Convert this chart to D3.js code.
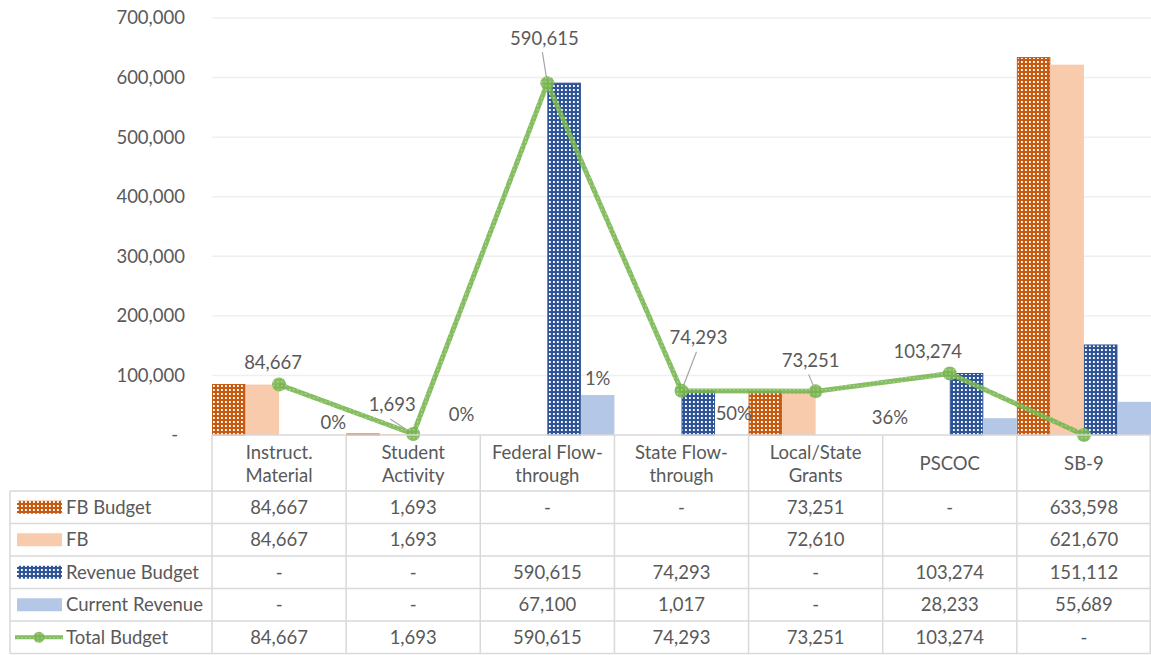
<!DOCTYPE html>
<html>
<head>
<meta charset="utf-8">
<script src="https://cdn.jsdelivr.net/npm/d3@7"></script>
<style>
  body { margin: 0; background: #fff; }
  text { font-family: "Lato", "Open Sans", sans-serif; fill: #595959; }
</style>
</head>
<body>
<div class="chart"></div>
<script>
// data
const categories = [["Instruct.", "Material"], ["Student", "Activity"], ["Federal Flow-", "through"],
    ["State Flow-", "through"], ["Local/State", "Grants"], ["PSCOC"], ["SB-9"]];
const fbBudget = [84667, 1693, 0, 0, 73251, 0, 633598];
const fb = [84667, 1693, null, null, 72610, null, 621670];
const revenueBudget = [0, 0, 590615, 74293, 0, 103274, 151112];
const currentRevenue = [0, 0, 67100, 1017, 0, 28233, 55689];
const totalBudget = [84667, 1693, 590615, 74293, 73251, 103274, 0];
const pctLabels = ["0%", "0%", "1%", "50%", "36%", null, null];
const yTicks = [0, 100000, 200000, 300000, 400000, 500000, 600000, 700000];

const seriesNames = ["FB Budget", "FB", "Revenue Budget", "Current Revenue", "Total Budget"];
const barSeries = [fbBudget, fb, revenueBudget, currentRevenue];

// layout
var width = 1151, height = 655;
var plot = {left: 212, right: 1151, top: 18, bottom: 435};
var table = {left: 10, header: 491, rowH: 32.5};
var fontSize = "18.5px";

// label nudges (how the labels were dragged in the original)
const lineLabelShift = [[-6, -22], [-21, -29], [-3, -45], [17, -53], [-5, -31], [-22, -22], null];
const lineLabelLeader = [false, true, true, true, true, false, false];
const pctLabelShift = [[4, -12], [-2, -20], [0, -17], [2, -21], [24, -17], null, null];

var svg = d3.select(".chart").append("svg")
    .attr("width", width)
    .attr("height", height);

var defs = svg.append("defs");
function dotPattern(id, color, dot, w, h) {
    var p = defs.append("pattern")
        .attr("id", id)
        .attr("patternUnits", "userSpaceOnUse")
        .attr("width", 4).attr("height", 4);
    p.append("rect").attr("width", 4).attr("height", 4).attr("fill", color);
    p.append("rect").attr("x", 1).attr("y", 1).attr("width", w).attr("height", h).attr("fill", dot);
}
dotPattern("patOrange", "#C55A11", "#ffffff", 1.8, 2);
dotPattern("patBlue", "#2F5597", "#ffffff", 1.8, 2);
dotPattern("patGreen", "#78B451", "#a3d083", 1.5, 1.5);

const fills = ["url(#patOrange)", "#F8CBAD", "url(#patBlue)", "#B4C7E7"];
const strokes = ["#C55A11", "none", "#2F5597", "none"];

const xScale = d3.scaleBand()
    .domain(d3.range(categories.length))
    .range([plot.left, plot.right])
    .padding(0);

const xInner = d3.scaleBand()
    .domain(d3.range(barSeries.length))
    .range([0, xScale.bandwidth()])
    .padding(0);

const yScale = d3.scaleLinear()
    .domain([0, 700000])
    .range([plot.bottom, plot.top]);

const fmt = d3.format(",");

// gridlines
svg.append("g")
    .attr("class", "grid")
    .selectAll("line")
    .data(yTicks.filter(d => d > 0))
    .join("line")
    .attr("x1", plot.left).attr("x2", plot.right)
    .attr("y1", d => yScale(d)).attr("y2", d => yScale(d))
    .attr("stroke", "#efefef")
    .attr("stroke-width", 1.5);

// y axis
const yAxis = d3.axisLeft(yScale)
    .tickValues(yTicks)
    .tickSize(0)
    .tickPadding(27)
    .tickFormat(d => d === 0 ? "-" : fmt(d));

var gy = svg.append("g")
    .attr("class", "axis y-axis")
    .attr("transform", `translate(${plot.left},0)`)
    .call(yAxis);
gy.select(".domain").remove();
gy.selectAll("text")
    .style("font-size", fontSize)
    .style("font-family", "Lato, sans-serif")
    .attr("fill", "#595959")
    .attr("dx", d => d === 0 ? -7 : 0);

// bars
barSeries.forEach(function(values, s) {
    svg.append("g")
        .attr("class", "bars s" + s)
        .selectAll("rect")
        .data(values.map((v, i) => ({i: i, v: v})).filter(d => d.v))
        .join("rect")
        .attr("x", d => xScale(d.i) + xInner(s) + (strokes[s] !== "none" ? 0.5 : 0))
        .attr("width", xInner.bandwidth() - (strokes[s] !== "none" ? 1 : 0))
        .attr("y", d => yScale(d.v))
        .attr("height", d => Math.max(0.8, yScale(0) - yScale(d.v)))
        .attr("fill", fills[s])
        .attr("stroke", strokes[s])
        .attr("stroke-width", 1);
});

// percentage labels on current revenue
svg.append("g")
    .attr("class", "pct-labels")
    .selectAll("text")
    .data(pctLabels.map((t, i) => ({i: i, t: t})).filter(d => d.t))
    .join("text")
    .attr("x", d => xScale(d.i) + xInner(3) + xInner.bandwidth() / 2 + pctLabelShift[d.i][0])
    .attr("y", d => yScale(currentRevenue[d.i]) + pctLabelShift[d.i][1])
    .attr("dy", "0.35em")
    .attr("text-anchor", "middle")
    .style("font-size", fontSize)
    .text(d => d.t);

// total budget line
const cx = i => xScale(i) + xScale.bandwidth() / 2;
const line = d3.line()
    .x((d, i) => cx(i))
    .y(d => yScale(d));

var pts = totalBudget.map((v, i) => ({i: i, v: v}));

// leader lines
svg.append("g")
    .attr("class", "leaders")
    .selectAll("line")
    .data(pts.filter(d => lineLabelLeader[d.i]))
    .join("line")
    .attr("x1", d => cx(d.i) + lineLabelShift[d.i][0] - 2)
    .attr("y1", d => yScale(d.v) + lineLabelShift[d.i][1] + 14)
    .attr("x2", d => cx(d.i))
    .attr("y2", d => yScale(d.v))
    .attr("stroke", "#a6a6a6")
    .attr("stroke-width", 1.2);

svg.append("path")
    .datum(totalBudget)
    .attr("class", "line")
    .attr("d", line)
    .attr("fill", "none")
    .attr("stroke", "url(#patGreen)")
    .attr("stroke-width", 5)
    .attr("stroke-linejoin", "round")
    .attr("opacity", 0.9);

svg.append("g")
    .attr("class", "markers")
    .selectAll("circle")
    .data(pts)
    .join("circle")
    .attr("cx", d => cx(d.i))
    .attr("cy", d => yScale(d.v))
    .attr("r", 7)
    .attr("fill", "url(#patGreen)")
    .attr("opacity", 0.9);

svg.append("g")
    .attr("class", "line-labels")
    .selectAll("text")
    .data(pts.filter(d => lineLabelShift[d.i]))
    .join("text")
    .attr("x", d => cx(d.i) + lineLabelShift[d.i][0])
    .attr("y", d => yScale(d.v) + lineLabelShift[d.i][1])
    .attr("dy", "0.35em")
    .attr("text-anchor", "middle")
    .style("font-size", fontSize)
    .text(d => fmt(d.v));

// data table
var tg = svg.append("g").attr("class", "data-table");
var rowsY = d3.range(seriesNames.length + 1).map(r => table.header + r * table.rowH);
var gridColor = "#d9d9d9";

// horizontal borders
tg.append("line")
    .attr("x1", plot.left).attr("x2", plot.right)
    .attr("y1", plot.bottom).attr("y2", plot.bottom)
    .attr("stroke", gridColor).attr("stroke-width", 1.5);
rowsY.forEach(function(y) {
    tg.append("line")
        .attr("x1", table.left).attr("x2", plot.right)
        .attr("y1", y).attr("y2", y)
        .attr("stroke", gridColor).attr("stroke-width", 1.5);
});
// vertical borders
d3.range(categories.length + 1).forEach(function(c) {
    var x = c < categories.length ? xScale(c) : plot.right - 0.75;
    tg.append("line")
        .attr("x1", x).attr("x2", x)
        .attr("y1", plot.bottom).attr("y2", rowsY[rowsY.length - 1])
        .attr("stroke", gridColor).attr("stroke-width", 1.5);
});
tg.append("line")
    .attr("x1", table.left).attr("x2", table.left)
    .attr("y1", table.header).attr("y2", rowsY[rowsY.length - 1])
    .attr("stroke", gridColor).attr("stroke-width", 1.5);

// header labels
categories.forEach(function(lines, i) {
    var midY = (plot.bottom + table.header) / 2 + 1;
    lines.forEach(function(t, k) {
        tg.append("text")
            .attr("x", xScale(i) + xScale.bandwidth() / 2)
            .attr("y", midY + (k - (lines.length - 1) / 2) * 23)
            .attr("dy", "0.35em")
            .attr("text-anchor", "middle")
            .style("font-size", fontSize)
            .text(t);
    });
});

// value rows
const rowValues = [fbBudget, fb, revenueBudget, currentRevenue, totalBudget];
rowValues.forEach(function(values, r) {
    var yc = rowsY[r] + table.rowH / 2;
    values.forEach(function(v, i) {
        tg.append("text")
            .attr("x", xScale(i) + xScale.bandwidth() / 2)
            .attr("y", yc)
            .attr("dy", "0.35em")
            .attr("text-anchor", "middle")
            .style("font-size", fontSize)
            .text(v === null ? "" : (v === 0 ? "-" : fmt(v)));
    });
    // legend key
    if (r < 4) {
        tg.append("rect")
            .attr("x", 17).attr("y", yc - 6.5)
            .attr("width", 45).attr("height", 13)
            .attr("fill", fills[r]);
    } else {
        tg.append("line")
            .attr("x1", 15).attr("x2", 63)
            .attr("y1", yc).attr("y2", yc)
            .attr("stroke", "url(#patGreen)")
            .attr("stroke-width", 4)
            .attr("opacity", 0.9);
        tg.append("circle")
            .attr("cx", 39).attr("cy", yc).attr("r", 5.5)
            .attr("fill", "url(#patGreen)")
            .attr("opacity", 0.9);
    }
    tg.append("text")
        .attr("x", 66)
        .attr("y", yc)
        .attr("dy", "0.35em")
        .style("font-size", fontSize)
        .text(seriesNames[r]);
});
</script>
</body>
</html>
